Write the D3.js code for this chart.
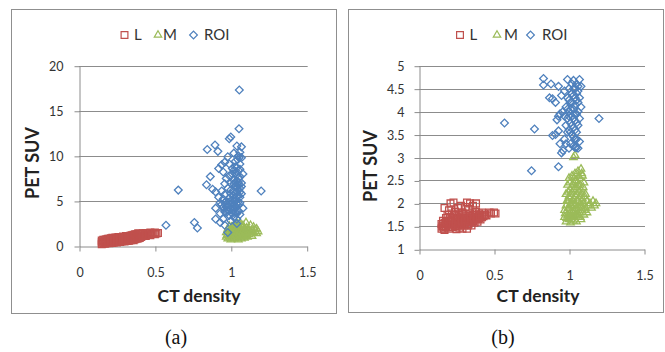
<!DOCTYPE html>
<html>
<head>
<meta charset="utf-8">
<script src="https://cdn.jsdelivr.net/npm/d3@7"></script>
<style>
  body { margin: 0; background: #fff; }
  svg { display: block; }
</style>
</head>
<body>
<div id="chart"></div>
<script>
// series names and colours (Excel 2007 defaults)
const seriesNames = ["L", "M", "ROI"];
const seriesColors = ["#C0504D", "#9BBB59", "#4F81BD"];

// axis ticks
const xTicks = [0, 0.5, 1, 1.5];
const yTicksA = [0, 5, 10, 15, 20];
const yTicksB = [1, 1.5, 2, 2.5, 3, 3.5, 4, 4.5, 5];

// panel (a): [CT density, PET SUV]
const lA = [[0.15,0.2],[0.15,0.4],[0.15,0.6],[0.16,0.3],[0.16,0.5],[0.16,0.7],[0.17,0.25],[0.17,0.45],[0.17,0.7],[0.18,0.3],[0.18,0.5],[0.18,0.75],[0.19,0.35],[0.19,0.55],[0.19,0.8],[0.2,0.3],[0.2,0.55],[0.2,0.8],[0.21,0.4],[0.21,0.6],[0.21,0.85],[0.22,0.35],[0.22,0.6],[0.22,0.9],[0.23,0.4],[0.23,0.65],[0.23,0.85],[0.24,0.45],[0.24,0.7],[0.24,0.95],[0.25,0.4],[0.25,0.7],[0.25,0.9],[0.26,0.5],[0.26,0.75],[0.26,1.0],[0.27,0.45],[0.27,0.7],[0.27,0.95],[0.28,0.5],[0.28,0.8],[0.28,1.0],[0.29,0.55],[0.29,0.8],[0.29,1.05],[0.3,0.5],[0.3,0.75],[0.3,1.0],[0.31,0.6],[0.31,0.85],[0.31,1.1],[0.32,0.55],[0.32,0.8],[0.32,1.05],[0.33,0.6],[0.33,0.9],[0.33,1.1],[0.34,0.65],[0.34,0.9],[0.34,1.15],[0.35,0.7],[0.35,0.95],[0.35,1.2],[0.36,0.65],[0.36,0.9],[0.36,1.25],[0.37,0.75],[0.37,1.0],[0.37,1.3],[0.38,0.8],[0.38,1.05],[0.38,1.3],[0.39,0.85],[0.39,1.1],[0.39,1.4],[0.4,0.9],[0.4,1.15],[0.4,1.35],[0.41,1.0],[0.41,1.3],[0.42,1.1],[0.42,1.4],[0.43,1.2],[0.44,1.1],[0.44,1.45],[0.45,1.3],[0.46,1.4],[0.47,1.2],[0.47,1.5],[0.48,1.35],[0.49,1.45],[0.5,1.3],[0.5,1.5],[0.51,1.4],[0.52,1.45]];
const mA = [[0.97,1.0],[0.97,1.5],[0.98,0.8],[0.98,1.3],[0.98,1.9],[0.99,1.1],[0.99,1.6],[0.99,2.2],[1.0,0.7],[1.0,1.2],[1.0,1.8],[1.01,1.0],[1.01,1.5],[1.01,2.0],[1.02,0.8],[1.02,1.3],[1.02,1.7],[1.02,2.3],[1.03,1.1],[1.03,1.6],[1.03,2.1],[1.04,0.9],[1.04,1.4],[1.04,1.9],[1.04,2.5],[1.05,1.2],[1.05,1.7],[1.05,2.2],[1.05,0.7],[1.06,1.0],[1.06,1.5],[1.06,2.0],[1.06,2.6],[1.07,1.3],[1.07,1.8],[1.07,0.8],[1.08,1.1],[1.08,1.6],[1.08,2.3],[1.09,1.4],[1.09,1.9],[1.09,0.9],[1.1,1.2],[1.1,1.7],[1.1,2.6],[1.11,1.5],[1.11,1.0],[1.12,1.8],[1.12,1.3],[1.13,2.3],[1.13,1.6],[1.14,1.1],[1.15,2.1],[1.15,1.5],[1.16,1.8],[1.17,1.9],[1.17,1.4],[1.18,1.6],[0.975,1.2],[0.985,1.6],[0.995,0.9],[1.005,1.4],[1.005,2.1],[1.015,1.2],[1.015,1.8],[1.025,1.0],[1.025,1.5],[1.025,2.0],[1.035,1.3],[1.035,1.8],[1.035,2.4],[1.045,1.1],[1.045,1.6],[1.045,2.1],[1.055,1.4],[1.055,1.9],[1.065,1.2],[1.065,1.7],[1.065,2.3],[1.075,1.0],[1.075,1.5],[1.075,2.1],[1.085,1.3],[1.085,1.8],[1.095,1.1],[1.095,1.6],[1.105,1.4],[1.105,2.0],[1.12,1.5],[1.14,1.7]];
const roiA = [[0.573,2.3],[0.654,6.2],[0.76,2.6],[0.78,2.0],[1.2,6.1],[1.056,17.3],[1.054,13.0],[0.99,11.9],[1.0,12.1],[1.07,11.0],[0.845,10.7],[0.896,11.2],[0.915,10.5],[1.04,11.1],[1.06,10.4],[1.05,10.0],[1.02,10.3],[0.98,9.9],[1.055,9.8],[1.045,9.6],[0.94,9.0],[0.96,9.3],[0.99,9.1],[0.92,8.6],[0.95,8.2],[1.03,8.8],[1.06,8.5],[0.865,7.7],[0.84,6.8],[0.88,6.3],[0.9,6.0],[0.92,5.4],[0.93,4.8],[0.9,4.2],[0.93,3.6],[0.9,3.0],[0.96,6.9],[0.97,7.5],[0.99,7.8],[1.01,8.0],[1.02,7.3],[1.04,7.9],[1.05,7.1],[1.03,6.6],[1.0,6.2],[1.04,6.0],[1.06,6.4],[1.07,5.8],[1.02,5.6],[0.99,5.3],[0.97,5.0],[1.01,4.8],[1.04,5.1],[1.06,5.4],[0.98,4.5],[0.95,4.3],[1.0,4.1],[1.03,4.4],[1.05,3.9],[0.97,3.7],[0.99,3.4],[1.02,3.2],[0.95,3.0],[0.93,2.6],[0.96,2.3],[0.98,1.5],[1.0,2.8],[1.04,2.5],[1.06,3.5],[1.08,4.2],[1.07,7.0],[1.08,8.0],[1.03,9.4],[1.01,8.6],[1.05,7.5],[1.02,6.9],[1.0,7.0],[1.03,5.9],[1.01,5.1],[1.04,4.7],[1.02,4.0],[0.96,5.7],[0.94,6.1],[0.98,6.4],[1.05,6.8],[1.06,9.1],[1.07,9.8],[1.04,8.2],[1.0,5.8],[0.99,4.9],[1.03,5.3],[1.05,4.5],[0.97,4.0],[0.99,3.9],[1.01,3.6],[1.04,3.0],[1.03,7.0],[1.04,6.5],[1.05,6.2],[1.02,6.0],[1.03,5.0],[1.05,5.6],[1.04,5.5],[1.02,4.6],[1.03,4.2],[1.05,4.9],[1.06,4.8],[1.04,3.6],[1.03,3.7],[1.01,4.3],[1.0,4.6],[0.98,4.0],[0.97,4.4],[1.06,7.7],[1.05,8.4],[1.04,8.7],[1.06,6.0],[1.07,6.6],[1.03,8.1],[1.04,7.2],[1.02,8.4],[0.96,3.8],[0.95,5.2],[0.94,4.6],[0.96,4.8]];

// panel (b): [CT density, PET SUV]
const lB = [[0.15,1.45],[0.15,1.55],[0.16,1.5],[0.16,1.62],[0.17,1.42],[0.17,1.58],[0.17,1.9],[0.18,1.48],[0.18,1.68],[0.19,1.55],[0.19,1.75],[0.2,1.45],[0.2,1.62],[0.2,1.85],[0.21,1.52],[0.21,1.7],[0.21,2.0],[0.22,1.48],[0.22,1.6],[0.22,1.78],[0.23,1.55],[0.23,1.68],[0.23,2.02],[0.24,1.5],[0.24,1.65],[0.24,1.82],[0.25,1.44],[0.25,1.58],[0.25,1.72],[0.26,1.52],[0.26,1.66],[0.26,1.9],[0.27,1.47],[0.27,1.6],[0.27,1.76],[0.28,1.55],[0.28,1.7],[0.28,1.95],[0.29,1.45],[0.29,1.62],[0.29,1.8],[0.3,1.52],[0.3,1.68],[0.31,1.58],[0.31,1.74],[0.31,1.92],[0.32,1.45],[0.32,1.63],[0.32,2.02],[0.33,1.55],[0.33,1.7],[0.33,1.88],[0.34,1.6],[0.34,1.78],[0.34,2.0],[0.35,1.52],[0.35,1.68],[0.36,1.62],[0.36,1.75],[0.36,1.95],[0.37,1.58],[0.37,1.7],[0.38,1.65],[0.38,1.82],[0.38,2.0],[0.39,1.6],[0.39,1.72],[0.4,1.68],[0.4,1.78],[0.41,1.65],[0.41,1.75],[0.42,1.7],[0.42,1.8],[0.43,1.72],[0.44,1.76],[0.45,1.74],[0.47,1.8],[0.48,1.78],[0.5,1.8],[0.51,1.78],[0.155,1.5],[0.165,1.45],[0.175,1.52],[0.185,1.6],[0.195,1.48],[0.205,1.7],[0.215,1.6],[0.225,1.52],[0.235,1.75],[0.245,1.58],[0.255,1.65],[0.265,1.78],[0.275,1.52],[0.285,1.62],[0.295,1.72],[0.305,1.6],[0.315,1.66],[0.325,1.52],[0.335,1.62],[0.345,1.7],[0.355,1.6],[0.365,1.68],[0.375,1.76],[0.385,1.7],[0.395,1.66],[0.405,1.72]];
const mB = [[0.97,1.7],[0.97,1.85],[0.98,1.6],[0.98,1.95],[0.98,2.2],[0.99,1.75],[0.99,2.05],[0.99,2.4],[1.0,1.65],[1.0,1.9],[1.0,2.15],[1.0,2.55],[1.01,1.58],[1.01,1.8],[1.01,2.0],[1.01,2.3],[1.02,1.7],[1.02,1.95],[1.02,2.25],[1.02,2.6],[1.03,1.62],[1.03,1.85],[1.03,2.1],[1.03,2.45],[1.03,3.0],[1.04,1.75],[1.04,2.0],[1.04,2.35],[1.04,2.65],[1.04,3.05],[1.05,1.6],[1.05,1.9],[1.05,2.2],[1.05,2.5],[1.06,1.7],[1.06,2.05],[1.06,2.4],[1.06,2.7],[1.07,1.8],[1.07,2.15],[1.07,2.55],[1.08,1.65],[1.08,1.95],[1.08,2.3],[1.08,2.75],[1.09,1.85],[1.09,2.1],[1.09,2.6],[1.1,1.75],[1.1,2.0],[1.1,2.45],[1.11,1.9],[1.11,2.2],[1.12,1.8],[1.12,2.05],[1.13,1.95],[1.14,2.0],[1.15,1.9],[1.16,2.05],[1.17,1.95],[1.18,2.0],[0.975,1.78],[0.985,2.05],[0.985,1.68],[0.995,1.9],[0.995,2.25],[1.005,1.72],[1.005,2.1],[1.005,2.45],[1.015,1.65],[1.015,1.95],[1.015,2.2],[1.025,1.8],[1.025,2.05],[1.025,2.4],[1.035,1.7],[1.035,1.95],[1.035,2.3],[1.035,2.55],[1.045,1.85],[1.045,2.15],[1.045,2.5],[1.055,1.75],[1.055,2.05],[1.055,2.35],[1.065,1.9],[1.065,2.25],[1.065,2.6],[1.075,1.7],[1.075,2.0],[1.075,2.4],[1.085,1.9],[1.085,2.2],[1.085,2.65],[1.095,2.0],[1.095,2.35],[1.105,1.85],[1.105,2.15]];
const roiB = [[0.57,3.75],[0.77,3.62],[0.75,2.71],[0.93,2.8],[1.2,3.85],[0.83,4.72],[0.83,4.58],[0.88,4.6],[0.93,4.55],[0.99,4.7],[1.07,4.7],[1.03,4.68],[0.87,4.3],[0.89,4.28],[0.91,4.2],[0.95,4.35],[0.97,4.45],[0.93,3.9],[0.92,3.82],[0.94,3.95],[0.91,3.5],[0.89,3.48],[0.93,3.58],[0.94,3.3],[0.95,3.1],[0.96,3.15],[0.97,3.4],[0.98,3.7],[0.98,4.1],[0.99,3.85],[0.99,4.3],[1.0,3.6],[1.0,4.0],[1.0,4.5],[1.01,3.3],[1.01,3.75],[1.01,4.2],[1.02,3.5],[1.02,3.9],[1.02,4.4],[1.02,4.6],[1.03,3.25],[1.03,3.65],[1.03,4.05],[1.03,4.35],[1.04,3.4],[1.04,3.8],[1.04,4.15],[1.04,4.5],[1.05,3.55],[1.05,3.95],[1.05,4.25],[1.05,4.6],[1.06,3.2],[1.06,3.7],[1.06,4.0],[1.06,4.45],[1.07,3.35],[1.07,3.85],[1.07,4.3],[1.08,4.1],[1.08,4.55],[1.05,3.22],[1.04,3.22],[0.97,3.9],[0.96,4.0],[0.98,3.3],[1.0,3.2],[0.99,3.55],[1.0,3.9],[1.01,4.05],[1.02,4.2],[1.03,3.85],[1.03,4.5],[1.04,3.95],[1.04,4.3],[1.05,4.4],[1.05,3.75],[1.06,4.2],[1.06,4.55],[1.02,3.7],[1.01,3.55],[1.04,3.6],[1.05,3.4],[1.03,3.45],[1.0,4.25],[0.99,4.05]];

const W = 665, H = 352;
const font = "Lato, 'Open Sans', sans-serif";
const gridColor = "#8c8c8c";
const textColor = "#333";

const svg = d3.select("#chart").append("svg")
    .attr("width", W)
    .attr("height", H);

// marker generators: square, triangle, diamond (rotated square)
const markers = [
    d3.symbol().type(d3.symbolSquare).size(46),
    d3.symbol().type(d3.symbolTriangle).size(24),
    d3.symbol().type(d3.symbolSquare).size(30)
];
const markerRotate = [0, 0, 45];

function drawPanel(p) {
    const g = svg.append("g");

    // outer frame
    g.append("rect")
        .attr("x", p.frame[0] + 0.5).attr("y", p.frame[1] + 0.5)
        .attr("width", p.frame[2]).attr("height", p.frame[3])
        .attr("fill", "none").attr("stroke", "#8f8f8f").attr("stroke-width", 1);

    const x = d3.scaleLinear().domain([0, 1.5]).range([p.left, p.right]);
    const y = d3.scaleLinear().domain(p.yDomain).range([p.bottom, p.top]);

    // horizontal gridlines
    g.append("g").selectAll("line")
        .data(p.yTicks.slice(1))
        .enter().append("line")
        .attr("x1", p.left).attr("x2", p.right + 1)
        .attr("y1", d => Math.round(y(d)) + 0.5)
        .attr("y2", d => Math.round(y(d)) + 0.5)
        .attr("stroke", gridColor);

    // y axis
    const yAxis = g.append("g")
        .attr("transform", `translate(${p.left + 0.5},0.5)`)
        .call(d3.axisLeft(y).tickValues(p.yTicks).tickSize(5).tickPadding(p.yPad).tickSizeOuter(0)
            .tickFormat(d3.format("")));
    // x axis
    const xAxis = g.append("g")
        .attr("transform", `translate(0.5,${Math.round(p.bottom) + 0.5})`)
        .call(d3.axisBottom(x).tickValues(xTicks).tickSize(5).tickPadding(17).tickSizeOuter(0)
            .tickFormat(d3.format("")));

    [yAxis, xAxis].forEach(a => {
        a.select(".domain").attr("stroke", gridColor);
        a.selectAll(".tick line").attr("stroke", gridColor);
        a.selectAll(".tick text")
            .attr("fill", textColor)
            .style("font-family", font)
            .style("font-size", "12.5px");
    });

    // points, drawn series by series
    const series = [p.l, p.m, p.roi];
    series.forEach((pts, i) => {
        g.append("g").selectAll("path")
            .data(pts)
            .enter().append("path")
            .attr("d", markers[i])
            .attr("transform", d => `translate(${x(d[0])},${y(d[1])}) rotate(${markerRotate[i]})`)
            .attr("fill", "none")
            .attr("stroke", seriesColors[i])
            .attr("stroke-width", 1.3);
    });

    // legend
    const lg = g.append("g").attr("transform", `translate(0,${p.legendY})`);
    seriesNames.forEach((name, i) => {
        lg.append("path")
            .attr("d", markers[i])
            .attr("transform", `translate(${p.legendMarks[i]},0) rotate(${markerRotate[i]})`)
            .attr("fill", "none")
            .attr("stroke", seriesColors[i])
            .attr("stroke-width", 1.2);
        lg.append("text")
            .attr("x", p.legendText[i]).attr("y", 5)
            .attr("fill", textColor)
            .style("font-family", font)
            .style("font-size", "15px")
            .text(name);
    });

    // axis titles
    g.append("text")
        .attr("x", p.xTitle[0]).attr("y", p.xTitle[1])
        .attr("text-anchor", "middle")
        .attr("fill", "#222")
        .style("font-family", font).style("font-weight", "bold").style("font-size", "17.5px")
        .text("CT density");
    g.append("text")
        .attr("transform", `translate(${p.yTitle[0]},${p.yTitle[1]}) rotate(-90)`)
        .attr("text-anchor", "middle")
        .attr("fill", "#222")
        .style("font-family", font).style("font-weight", "bold").style("font-size", "18px")
        .text("PET SUV");

    // caption under the panel
    svg.append("text")
        .attr("x", p.caption[0]).attr("y", p.caption[1])
        .attr("text-anchor", "middle")
        .attr("fill", "#111")
        .style("font-family", "'Liberation Serif', 'DejaVu Serif', serif")
        .style("font-size", "20px")
        .text(p.label);
}

drawPanel({
    frame: [11, 9, 325, 304],
    left: 79, right: 306.7, top: 65.7, bottom: 246, yPad: 11,
    yDomain: [0, 20], yTicks: yTicksA,
    l: lA, m: mA, roi: roiA,
    legendY: 35, legendMarks: [124.5, 158, 193.5], legendText: [134, 163, 204],
    xTitle: [199, 302], yTitle: [38.5, 163],
    caption: [176, 344], label: "(a)"
});

drawPanel({
    frame: [348, 9, 315, 303],
    left: 419, right: 644, top: 65.7, bottom: 249.3, yPad: 10,
    yDomain: [1, 5], yTicks: yTicksB,
    l: lB, m: mB, roi: roiB,
    legendY: 35, legendMarks: [460, 497, 530.5], legendText: [469.5, 504, 542],
    xTitle: [538, 302], yTitle: [376.5, 166],
    caption: [503, 344], label: "(b)"
});
</script>
</body>
</html>
